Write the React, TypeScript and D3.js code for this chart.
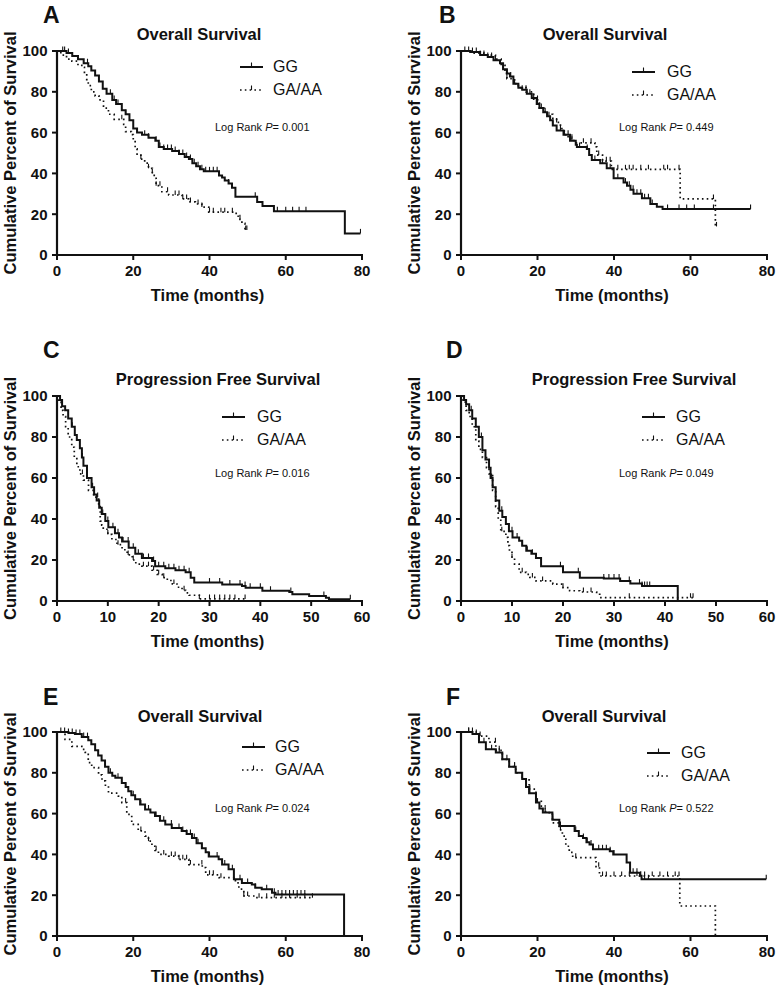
import React from 'react';
import * as d3 from 'd3';

type Pt = [number, number];

// ---- data: Kaplan-Meier steps [time (months), survival %] and censor times ----

// A – Overall Survival
const A_GG: Pt[] = [[0,100],[2.5,99],[4,97.5],[5.5,96],[7,94],[8.2,92.5],[9,90.5],[10,88],[11,85],[12,81.5],[13,79],[14.5,76],[15.5,74],[17,71],[18,69],[19,66],[20,62],[21,60],[22.3,59],[24,57.5],[25.8,56],[26.7,53],[28,52],[30.2,51],[32,49.5],[33.5,48],[34.6,47],[35.5,45],[36.5,43.5],[37.5,42],[38.5,41],[42.5,39],[43.3,38],[44,36.5],[45,35],[45.9,33],[46.8,28.6],[52.5,26],[53.9,24],[56.9,21.5],[75.5,10.6],[79.6,10.6]];
const A_GA: Pt[] = [[0,100],[1,98],[2.5,96],[3.9,95],[5.5,93],[6.5,92],[7.2,89],[7.8,86],[8.2,83],[9,80],[10,78],[11,76],[12.2,72],[13.5,69],[15,66.5],[17.5,64],[18,60.5],[19.5,59],[20,56],[20.5,52],[21,49],[22,47],[23,45],[24,42.5],[25,40],[25.5,37.6],[26,34],[27.5,31],[29.3,29.4],[32.8,27.5],[34.5,26],[36.3,25],[38,23.5],[39.8,21],[47,19],[47.7,17.5],[48.5,15.5],[49.3,12.3],[50,12.3]];
const A_GG_CENS = [1.5,2,3,8,13,14,15,16,18,21,23,24,26,27,28,29,30,31,32,33,34,35,36,37,38,39,40,41,42,45,52,57.8,60,61.8,63.5,65.3,79.6];
const A_GA_CENS = [17,22,24,25,26,27,29,31,32,33,34,35,37,38,40,41,43,44,46,48,49.5,49.8];

// B – Overall Survival
const B_GG: Pt[] = [[0,100],[2.4,99.5],[5,98],[7,97],[8.5,95.5],[10.2,94],[11,91],[12,89],[12.8,87.5],[13.7,84],[15,82],[16,81],[17.2,79],[18.5,77],[19.8,74],[20.5,72],[21.5,70],[22.5,68],[23.3,66],[24,63.5],[25,61],[26.8,59],[28.5,56],[30,54],[30.3,53],[32.9,52],[33.5,49],[34.2,46.6],[36.4,45],[38.1,42.5],[39.9,37.6],[42.5,35.5],[43.4,34],[44.3,32],[45.1,30],[47.3,27.8],[49.5,25],[51.2,23.7],[52.7,22.5],[75.7,22.5]];
const B_GA: Pt[] = [[0,100],[3,99],[6,98],[9,96],[10.5,93],[11.5,89],[12,86.5],[14,84],[15,82],[17,80],[19,76],[20.5,72],[22,69],[24,67],[25,65],[26,62],[27,59],[28,57],[29.5,55],[35,53],[35.5,49],[37,46],[39.3,42],[57.3,27.5],[66.5,14],[67,14]];
const B_GG_CENS = [1,2,3,4,5,6,7,8,9,11,12,13,14,15,16,17,18,19,20,21,22,23,24,26,27,28,29,31,33,35,37,39,41,43,44,45,46,47,48,49,50,54,57,59,61,66,75.7];
const B_GA_CENS = [12,20,25,27,29,32,34,36,38,39,41,43,44,45,47,49,53,54,57,66,66.8];

// C – Progression Free Survival
const C_GG: Pt[] = [[0,100],[0.6,98],[1,95],[1.6,93],[2.2,89],[2.9,85],[3.5,81],[3.9,78.5],[4.5,74.5],[4.9,70],[5.2,66],[5.9,60],[6.8,55.5],[7.3,52],[7.8,49],[8.3,45.5],[8.8,42.5],[9.5,39],[10.1,36],[11.4,33],[12.2,31],[12.8,29],[14.1,26],[15.4,23],[16.7,21],[18.7,19.5],[19.3,17],[21.3,16],[23.3,15],[25.3,14],[26.3,11.4],[27,9],[32.5,8],[36.4,7.3],[37.1,6.5],[40.4,5],[45.7,4.4],[46.3,3.3],[49.6,2.4],[52.9,1.6],[53.5,0.8],[57.7,0.8]];
const C_GA: Pt[] = [[0,100],[0.3,97],[0.8,93],[1.2,90],[1.7,85],[2.2,80],[2.9,75],[3.4,70],[3.9,65.5],[4.5,62],[5.2,59],[6.2,54],[7.2,50.7],[8.2,46],[8.5,39],[8.8,37],[9.1,35],[10,32.5],[10.8,30],[11.8,27.5],[12.8,25],[13.8,22.5],[14.8,20],[15.5,18],[16.7,17],[18.7,15],[19.7,13],[20.7,11.4],[21.7,10],[22.7,8.3],[23.6,6.7],[24.6,5.2],[25.3,4],[26,2.8],[28,1],[37.3,1]];
const C_GG_CENS = [3,5,7,9,10,11,12,13,14,15,16,17,18,19,20,21,22,23,24,25,26,30,32,34,36,37,38,40,42,46,52.5,57.7];
const C_GA_CENS = [5,8,10,12,14,15,17,18,19,20,21,23,25,28,30,31,32,33,34,35,37];

// D – Progression Free Survival
const D_GG: Pt[] = [[0,100],[0.6,98],[1,96],[1.6,93],[2.2,89],[2.9,85],[3.5,80],[4.2,73.5],[4.8,69],[5.5,65],[5.8,60],[6.2,55.5],[6.8,49],[7.5,44],[8.1,41],[8.8,37.6],[9.4,34],[10.1,31],[11.4,29.4],[12,27],[12.8,24.5],[13.8,23],[14.7,21],[15.7,17],[19.3,17],[20,14],[23.3,11.4],[28,11],[31.2,9.8],[33.2,8.5],[35.5,7.3],[42.5,0]];
const D_GA: Pt[] = [[0,100],[0.3,97],[1,93],[1.6,90],[2.2,85],[2.9,78],[3.5,74],[4.2,70],[5,65],[5.5,62],[6.2,54],[6.8,46],[7.3,40],[7.8,34],[8.8,31],[9.2,27],[9.5,24.5],[10,21],[10.5,18],[11.4,14],[12.8,13],[13.5,11.5],[14.7,9.8],[18,8.2],[20,6.5],[21.3,5],[23.3,4.4],[26.6,3.3],[27.2,1.6],[45.5,1.6]];
const D_GG_CENS = [2,4,6,8,10,11,12,13,14,19.5,23,28,29,30,31,33,35,35.5,36,36.5,37];
const D_GA_CENS = [8,10,12,14,16,20,24,25.5,33,45,45.5];

// E – Overall Survival
const E_GG: Pt[] = [[0,100],[3,99.5],[4.7,99],[6.5,97.5],[8.2,96],[9,94],[10,91],[10.8,88.5],[11.7,86],[12.6,83],[13.5,80],[14.5,78.5],[15.3,77.6],[17,75],[18,73],[18.7,71],[19.5,69],[20.5,67],[21.8,64.5],[23.1,62],[24.5,60.5],[25.7,58.8],[27,56.5],[28.4,54.7],[30.1,53],[32.7,51.5],[34,50],[35.4,48],[36.6,45.5],[38,43],[39,41],[39.8,39],[42.4,37.6],[43.3,35],[45,32.7],[46.4,27.8],[48.5,26],[51.1,25.3],[52,23.7],[53.7,22.9],[56.4,21.2],[57.3,20.4],[75.3,0]];
const E_GA: Pt[] = [[0,100],[2.1,96.4],[3.9,93],[6.5,91.5],[7.4,90],[8.2,85],[9.1,82.5],[10.9,79],[11.8,76],[12.7,73.5],[13.5,70],[16.1,68.6],[17,65.4],[18.3,59.6],[19.6,54.7],[21.3,51.5],[23.1,49],[24,46.5],[24.9,44],[25.7,42],[26.6,40],[29.3,39.2],[31.9,37.6],[34.6,35],[38.1,33.5],[39,30],[42.5,28.6],[46.8,26],[47.7,23],[49,19.6],[52,18.8],[67.3,18.8]];
const E_GG_CENS = [1,2,3,4,5,6,7,8,14,16,18,20,22,24,26,28,30,32,33,34,35,36,37,38,40,42,44,46,48,50,52,55,57,58,59,60,61,62,63,64,65,75.3];
const E_GA_CENS = [18,22,24,26,28,30,31,32,33,34,35,38,40,41,43,49,50,53,55,57,59,61,63,65,67];

// F – Overall Survival
const F_GG: Pt[] = [[0,100],[3,99],[4.7,95],[6.5,91.5],[9.1,90],[10.8,86.6],[12.6,83],[14.3,80],[16,77],[17,73],[17.8,70],[19.6,65.4],[20.5,62.5],[21.4,60.5],[23.9,57],[25.7,53.9],[29.7,51.5],[30.8,49],[31.9,48],[32.8,46],[33.6,44.8],[34.5,42.5],[38.9,41.5],[39.8,40],[43.3,36],[44.2,31],[46.8,29.5],[47.2,27.8],[79.8,27.8]];
const F_GA: Pt[] = [[0,100],[4.7,98],[7.3,95],[9.1,91],[10.8,86.6],[12.6,83],[14.3,80],[16,77],[17.8,72],[19.6,66],[21,62],[22.1,60.5],[23.9,55.5],[25.7,52],[26.5,49],[27.4,44],[28.3,41],[29.2,38.4],[35.3,34],[36.2,29.4],[57.2,14.7],[66.5,0]];
const F_GG_CENS = [2,3,4,6,8,10,12,14,16,18,20,22,24,26,30,32,33,34,36,37,38,39,40,45,46,47,48,49,79.8];
const F_GA_CENS = [2,3,5,9,10,14,18,22,26,30,36,37,38,40,42,44,46,48,50,52,54,56,57];

const LETTERS = ['A', 'B', 'C', 'D', 'E', 'F'];
const TITLES = ['Overall Survival', 'Overall Survival', 'Progression Free Survival', 'Progression Free Survival', 'Overall Survival', 'Overall Survival'];
const P_VALUES = ['0.001', '0.449', '0.016', '0.049', '0.024', '0.522'];
const X_MAX = [80, 80, 60, 60, 80, 80];
const Y_TICKS = [0, 20, 40, 60, 80, 100];
const X_TICKS_80 = [0, 20, 40, 60, 80];
const X_TICKS_60 = [0, 10, 20, 30, 40, 50, 60];
const SERIES_NAMES = ['GG', 'GA/AA'];

const GG_SETS = [A_GG, B_GG, C_GG, D_GG, E_GG, F_GG];
const GA_SETS = [A_GA, B_GA, C_GA, D_GA, E_GA, F_GA];
const GG_CENS = [A_GG_CENS, B_GG_CENS, C_GG_CENS, D_GG_CENS, E_GG_CENS, F_GG_CENS];
const GA_CENS = [A_GA_CENS, B_GA_CENS, C_GA_CENS, D_GA_CENS, E_GA_CENS, F_GA_CENS];

// ---- layout (pixel positions of each panel) ----
const LAYOUT = [
  { x0: 57, x1: 362, yTop: 51, yBot: 255, titleX: 199, titleY: 40, letterX: 43, letterY: 23, legX: 240, legY: 67, legTextX: 273, logX: 215, logY: 131 },
  { x0: 461, x1: 767, yTop: 51, yBot: 255, titleX: 605, titleY: 40, letterX: 439, letterY: 23, legX: 632, legY: 72, legTextX: 667, logX: 619, logY: 131 },
  { x0: 57, x1: 362, yTop: 396, yBot: 601, titleX: 218, titleY: 385, letterX: 43, letterY: 358, legX: 222, legY: 417, legTextX: 257, logX: 215, logY: 477 },
  { x0: 461, x1: 767, yTop: 396, yBot: 601, titleX: 634, titleY: 385, letterX: 446, letterY: 358, legX: 642, legY: 417, legTextX: 676, logX: 619, logY: 477 },
  { x0: 57, x1: 362, yTop: 732, yBot: 936, titleX: 200, titleY: 722, letterX: 43, letterY: 705, legX: 242, legY: 747, legTextX: 275, logX: 215, logY: 812 },
  { x0: 461, x1: 767, yTop: 732, yBot: 936, titleX: 604, titleY: 722, letterX: 446, letterY: 705, legX: 647, legY: 753, legTextX: 681, logX: 619, logY: 812 },
];

const FONT = '"Liberation Sans", Arial, Helvetica, sans-serif';
const INK = '#111';
const DOTS = '1.6,3.2';

const bis = d3.bisector((d: Pt) => d[0]).right;
const survAt = (pts: Pt[], t: number) => {
  const i = Math.max(0, bis(pts, t) - 1);
  return pts[i][1];
};

const Panel: React.FC<{ i: number }> = ({ i }) => {
  const L = LAYOUT[i];
  const xMax = X_MAX[i];
  const xTicks = xMax === 60 ? X_TICKS_60 : X_TICKS_80;
  const x = d3.scaleLinear().domain([0, xMax]).range([L.x0, L.x1]);
  const y = d3.scaleLinear().domain([0, 100]).range([L.yBot, L.yTop]);
  const line = d3.line<Pt>().x(d => x(d[0])).y(d => y(d[1])).curve(d3.curveStepAfter);

  const curves = [
    { pts: GG_SETS[i], cens: GG_CENS[i], width: 2, dash: undefined as string | undefined },
    { pts: GA_SETS[i], cens: GA_CENS[i], width: 1.7, dash: DOTS },
  ];

  return (
    <g>
      <text x={L.letterX} y={L.letterY} fontSize={23} fontWeight="bold" fontFamily={FONT} fill={INK}>{LETTERS[i]}</text>
      <text x={L.titleX} y={L.titleY} fontSize={16.5} fontWeight="bold" fontFamily={FONT} textAnchor="middle" fill={INK}>{TITLES[i]}</text>

      {/* curves */}
      {curves.map((c, k) => (
        <g key={k}>
          <path d={line(c.pts) || ''} fill="none" stroke={INK} strokeWidth={c.width} strokeDasharray={c.dash} />
          {c.cens.map((t, j) => {
            const cx = x(t);
            const cy = y(survAt(c.pts, t));
            return <line key={j} x1={cx} x2={cx} y1={cy} y2={cy - 4.5} stroke={INK} strokeWidth={1.1} />;
          })}
        </g>
      ))}

      {/* axes */}
      <line x1={L.x0} x2={L.x0} y1={L.yTop} y2={L.yBot + 1} stroke={INK} strokeWidth={2.2} />
      <line x1={L.x0 - 1} x2={L.x1 + 1} y1={L.yBot} y2={L.yBot} stroke={INK} strokeWidth={2.2} />
      {Y_TICKS.map(v => (
        <g key={'y' + v}>
          <line x1={L.x0 - 5} x2={L.x0} y1={y(v)} y2={y(v)} stroke={INK} strokeWidth={2} />
          <text x={L.x0 - 9.5} y={y(v)} dy="0.36em" textAnchor="end" fontSize={15} fontWeight="bold" fontFamily={FONT} fill={INK}>{v}</text>
        </g>
      ))}
      {xTicks.map(v => (
        <g key={'x' + v}>
          <line x1={x(v)} x2={x(v)} y1={L.yBot} y2={L.yBot + 5} stroke={INK} strokeWidth={2} />
          <text x={x(v)} y={L.yBot + 21} textAnchor="middle" fontSize={15} fontWeight="bold" fontFamily={FONT} fill={INK}>{v}</text>
        </g>
      ))}
      <text x={(L.x0 + L.x1) / 2 - 2} y={L.yBot + 46} textAnchor="middle" fontSize={16.5} fontWeight="bold" fontFamily={FONT} fill={INK}>Time (months)</text>
      <text transform={`translate(${L.x0 - 41},${(L.yTop + L.yBot) / 2}) rotate(-90)`} textAnchor="middle" fontSize={16.5} fontWeight="bold" fontFamily={FONT} fill={INK}>Cumulative Percent of Survival</text>

      {/* legend */}
      {SERIES_NAMES.map((name, k) => {
        const ly = L.legY + k * 23;
        return (
          <g key={name}>
            <line x1={L.legX} x2={L.legX + 23} y1={ly} y2={ly} stroke={INK} strokeWidth={k === 0 ? 2 : 1.7} strokeDasharray={k === 0 ? undefined : DOTS} />
            <line x1={L.legX + 11.5} x2={L.legX + 11.5} y1={ly} y2={ly - 4.5} stroke={INK} strokeWidth={1.1} />
            <text x={L.legTextX} y={ly + 5} fontSize={16} fontFamily={FONT} fill={INK}>{name}</text>
          </g>
        );
      })}
      <text x={L.logX} y={L.logY} fontSize={11} fontFamily={FONT} fill={INK}>
        Log Rank <tspan fontStyle="italic">P</tspan>= {P_VALUES[i]}
      </text>
    </g>
  );
};

export default function App() {
  return (
    <svg width={778} height={986} style={{ position: 'absolute', left: 0, top: 0, background: '#fff' }}>
      <rect width={778} height={986} fill="#fff" />
      {LETTERS.map((_, i) => <Panel key={i} i={i} />)}
    </svg>
  );
}
